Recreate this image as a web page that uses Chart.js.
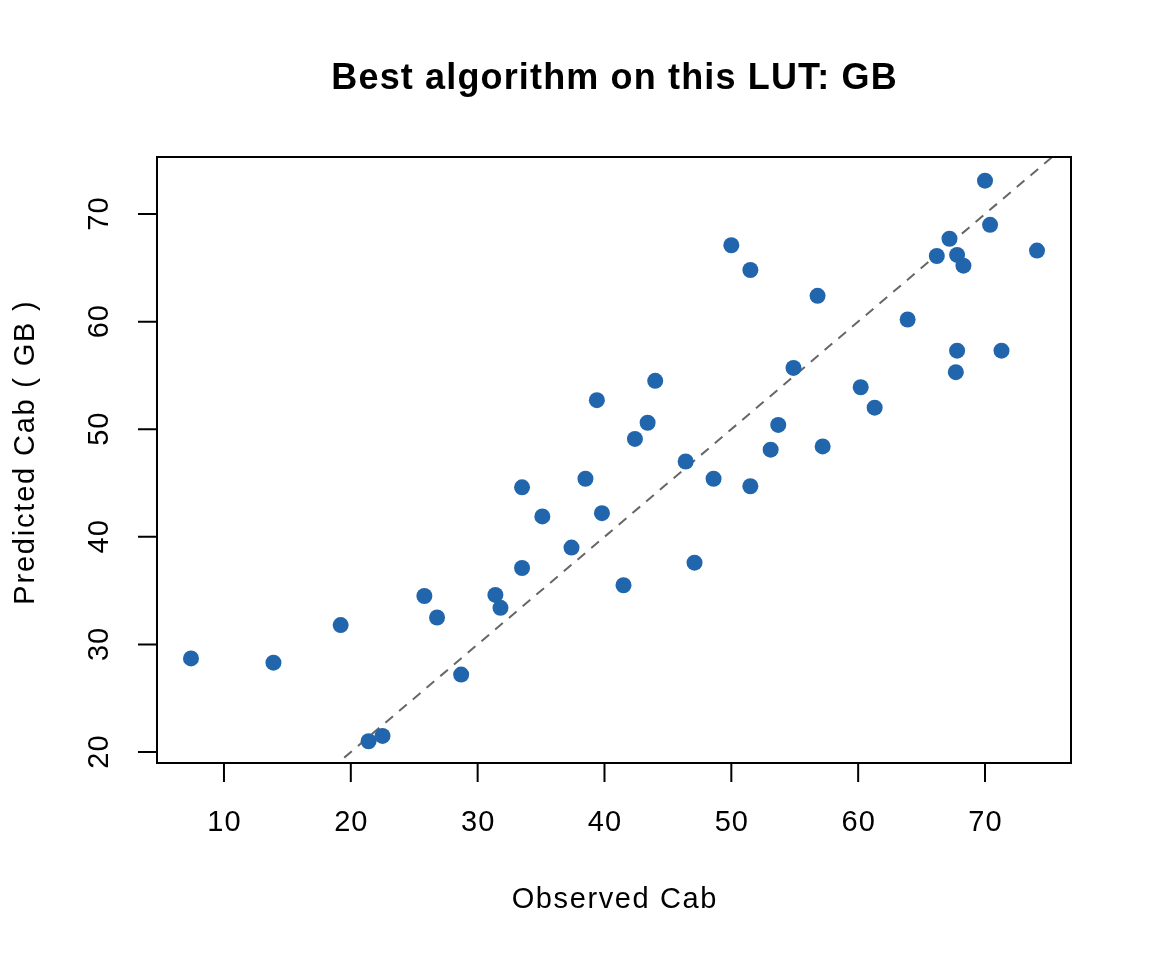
<!DOCTYPE html>
<html>
<head>
<meta charset="utf-8">
<script src="https://cdn.jsdelivr.net/npm/chart.js@4.4.1/dist/chart.umd.min.js"></script>
<style>
  html, body { margin: 0; padding: 0; background: #ffffff; }
  #wrap { width: 1152px; height: 960px; position: relative; }
</style>
</head>
<body>
<div id="wrap"><canvas id="c" width="1152" height="960"></canvas></div>
<script>
// ---- data ----
const titleText = "Best algorithm on this LUT: GB";
const xTitle = "Observed Cab";
const yTitle = "Predicted Cab ( GB )";
const xTicks = [10, 20, 30, 40, 50, 60, 70];
const yTicks = [20, 30, 40, 50, 60, 70];
const observed = [7.4, 13.9, 19.2, 21.4, 22.5, 25.8, 26.8, 28.7, 31.4, 31.8,
  33.5, 33.5, 35.1, 37.4, 38.5, 39.4, 39.8, 41.5, 42.4, 43.4,
  44.0, 46.4, 47.1, 48.6, 50.0, 51.5, 51.5, 53.1, 53.7, 54.9,
  56.8, 57.2, 60.2, 61.3, 63.9, 66.2, 67.2, 67.7, 67.8, 67.8,
  68.3, 70.0, 70.4, 71.3, 74.1];
const predicted = [28.7, 28.3, 31.8, 21.0, 21.5, 34.5, 32.5, 27.2, 34.6, 33.4,
  44.6, 37.1, 41.9, 39.0, 45.4, 52.7, 42.2, 35.5, 49.1, 50.6,
  54.5, 47.0, 37.6, 45.4, 67.1, 44.7, 64.8, 48.1, 50.4, 55.7,
  62.4, 48.4, 53.9, 52.0, 60.2, 66.1, 67.7, 55.3, 57.3, 66.2,
  65.2, 73.1, 69.0, 57.3, 66.6];
const identityLine = [0, 100];
const xRange = [4.72, 76.78];
const yRange = [18.98, 75.30];

const FONT = "'Liberation Sans', Arial, Helvetica, sans-serif";

const points = observed.map((x, i) => ({ x: x, y: predicted[i] }));
const linePts = identityLine.map(v => ({ x: v, y: v }));

function spacedText(ctx, text, x, y, spacing) {
  // centered text with letter spacing
  if ('letterSpacing' in ctx) {
    ctx.letterSpacing = spacing + 'px';
    ctx.fillText(text, x + spacing / 2, y);
    ctx.letterSpacing = '0px';
  } else {
    ctx.fillText(text, x, y);
  }
}

const rAxes = {
  id: 'rAxes',
  afterDraw(chart) {
    const ctx = chart.ctx;
    const a = chart.chartArea;
    const xs = chart.scales.x, ys = chart.scales.y;
    ctx.save();
    ctx.strokeStyle = '#000';
    ctx.lineWidth = 2;
    ctx.strokeRect(a.left, a.top, a.right - a.left, a.bottom - a.top);
    ctx.beginPath();
    xTicks.forEach(t => { const p = xs.getPixelForValue(t); ctx.moveTo(p, a.bottom); ctx.lineTo(p, a.bottom + 19); });
    yTicks.forEach(t => { const p = ys.getPixelForValue(t); ctx.moveTo(a.left, p); ctx.lineTo(a.left - 19, p); });
    ctx.stroke();
    ctx.fillStyle = '#000';
    ctx.font = '29px ' + FONT;
    ctx.textAlign = 'center';
    ctx.textBaseline = 'alphabetic';
    xTicks.forEach(t => spacedText(ctx, String(t), xs.getPixelForValue(t), 831, 1));
    yTicks.forEach(t => {
      ctx.save();
      ctx.translate(108, ys.getPixelForValue(t));
      ctx.rotate(-Math.PI / 2);
      spacedText(ctx, String(t), 0, 0, 1);
      ctx.restore();
    });
    // titles
    spacedText(ctx, xTitle, (a.left + a.right) / 2, 908, 1.6);
    ctx.save();
    ctx.translate(34, 453);
    ctx.rotate(-Math.PI / 2);
    spacedText(ctx, yTitle, 0, 0, 1.8);
    ctx.restore();
    ctx.font = 'bold 36px ' + FONT;
    spacedText(ctx, titleText, (a.left + a.right) / 2, 89, 1.15);
    ctx.restore();
  }
};

new Chart(document.getElementById('c'), {
  type: 'scatter',
  data: {
    datasets: [
      {
        type: 'line',
        data: linePts,
        borderColor: '#666666',
        borderWidth: 2,
        borderDash: [10, 8],
        pointRadius: 0,
        fill: false,
        order: 2
      },
      {
        data: points,
        backgroundColor: '#2166AC',
        borderColor: '#2166AC',
        borderWidth: 0,
        pointRadius: 8,
        pointHoverRadius: 8,
        order: 1
      }
    ]
  },
  options: {
    responsive: false,
    animation: false,
    devicePixelRatio: 1,
    layout: { padding: { left: 157, right: 81, top: 157, bottom: 197 } },
    plugins: { legend: { display: false }, tooltip: { enabled: false }, title: { display: false } },
    scales: {
      x: { type: 'linear', min: xRange[0], max: xRange[1], display: false },
      y: { type: 'linear', min: yRange[0], max: yRange[1], display: false }
    }
  },
  plugins: [rAxes]
});
</script>
</body>
</html>
